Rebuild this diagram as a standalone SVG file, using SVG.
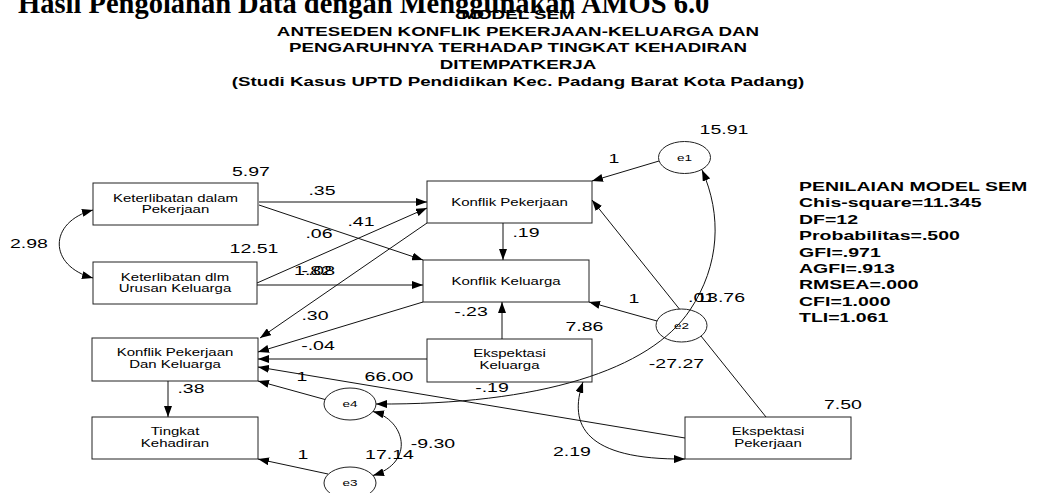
<svg xmlns="http://www.w3.org/2000/svg" width="1037" height="493" viewBox="0 0 1037 493">
<defs>
<marker id="ah" markerUnits="userSpaceOnUse" markerWidth="12" markerHeight="8" refX="11" refY="4" orient="auto-start-reverse" viewBox="0 0 12 8"><path d="M0,0 L11,4 L0,8 z" fill="#000"/></marker>
</defs>
<style>
.box{fill:#fff;stroke:#222;stroke-width:1}
.ell{fill:none;stroke:#222;stroke-width:1}
.c{fill:none;stroke:#111;stroke-width:1;marker-end:url(#ah)}
.cc{fill:none;stroke:#111;stroke-width:1;marker-end:url(#ah);marker-start:url(#ah)}
text{font-family:"Liberation Sans",Arial,sans-serif;fill:#000}
.lbl{font-size:10px;text-anchor:middle}
.el{font-size:9px;text-anchor:middle}
.num{font-size:13px;text-anchor:middle}
.hd{font-size:12.5px;font-weight:bold;text-anchor:middle}
.fit{font-size:13px;font-weight:bold}
.ttl{font-family:"Liberation Serif","Times New Roman",serif;font-size:28.5px;font-weight:bold}
</style>
<rect x="0" y="0" width="1037" height="493" fill="#fff"/>

<g id="title">
<text class="ttl" x="18" y="13">Hasil Pengolahan Data dengan Menggunakan AMOS 6.0</text>
<text class="hd" transform="matrix(1.5 0 0 1 518 19)">MODEL SEM</text>
<text class="hd" transform="matrix(1.5 0 0 1 518 35.7)">ANTESEDEN KONFLIK PEKERJAAN-KELUARGA DAN</text>
<text class="hd" transform="matrix(1.5 0 0 1 518 52.4)">PENGARUHNYA TERHADAP TINGKAT KEHADIRAN</text>
<text class="hd" transform="matrix(1.5 0 0 1 518 69.1)">DITEMPATKERJA</text>
<text class="hd" transform="matrix(1.5 0 0 1 518 85.8)">(Studi Kasus UPTD Pendidikan Kec. Padang Barat Kota Padang)</text>
</g>

<g id="fit-panel">
<text class="fit" transform="matrix(1.5 0 0 1 799 191)">PENILAIAN MODEL SEM</text>
<text class="fit" transform="matrix(1.5 0 0 1 799 207.4)">Chis-square=11.345</text>
<text class="fit" transform="matrix(1.5 0 0 1 799 223.8)">DF=12</text>
<text class="fit" transform="matrix(1.5 0 0 1 799 240.2)">Probabilitas=.500</text>
<text class="fit" transform="matrix(1.5 0 0 1 799 256.6)">GFI=.971</text>
<text class="fit" transform="matrix(1.5 0 0 1 799 273)">AGFI=.913</text>
<text class="fit" transform="matrix(1.5 0 0 1 799 289.4)">RMSEA=.000</text>
<text class="fit" transform="matrix(1.5 0 0 1 799 305.8)">CFI=1.000</text>
<text class="fit" transform="matrix(1.5 0 0 1 799 322.2)">TLI=1.061</text>
</g>

<g id="n-kdp">
<rect class="box" x="93" y="183" width="165" height="42"/>
<text class="lbl" transform="matrix(1.5 0 0 1 175.5 201.5)">Keterlibatan dalam<tspan x="0" dy="12">Pekerjaan</tspan></text>
</g>
<g id="n-kduk">
<rect class="box" x="93" y="262" width="164" height="42"/>
<text class="lbl" transform="matrix(1.5 0 0 1 175 280.5)">Keterlibatan dlm<tspan x="0" dy="12">Urusan Keluarga</tspan></text>
</g>
<g id="n-kp">
<rect class="box" x="427" y="181" width="165" height="42"/>
<text class="lbl" transform="matrix(1.5 0 0 1 509.5 205.5)">Konflik Pekerjaan</text>
</g>
<g id="n-kk">
<rect class="box" x="423" y="260" width="166" height="42"/>
<text class="lbl" transform="matrix(1.5 0 0 1 506 284.5)">Konflik Keluarga</text>
</g>
<g id="n-kpdk">
<rect class="box" x="92" y="338" width="166" height="43"/>
<text class="lbl" transform="matrix(1.5 0 0 1 175 356)">Konflik Pekerjaan<tspan x="0" dy="12">Dan Keluarga</tspan></text>
</g>
<g id="n-tk">
<rect class="box" x="92" y="417" width="166" height="42"/>
<text class="lbl" transform="matrix(1.5 0 0 1 175 435)">Tingkat<tspan x="0" dy="12.5">Kehadiran</tspan></text>
</g>
<g id="n-ek">
<rect class="box" x="427" y="339" width="165" height="43"/>
<text class="lbl" transform="matrix(1.5 0 0 1 509.5 357)">Ekspektasi<tspan x="0" dy="12">Keluarga</tspan></text>
</g>
<g id="n-ep">
<rect class="box" x="685" y="417" width="166" height="42"/>
<text class="lbl" transform="matrix(1.5 0 0 1 768 435)">Ekspektasi<tspan x="0" dy="12.5">Pekerjaan</tspan></text>
</g>
<g id="n-e1">
<ellipse class="ell" cx="684.5" cy="157.5" rx="26" ry="16"/>
<text class="el" transform="matrix(1.5 0 0 1 684.5 160.5)">e1</text>
</g>
<g id="n-e2">
<ellipse class="ell" cx="681.5" cy="325.5" rx="25.5" ry="16.5"/>
<text class="el" transform="matrix(1.5 0 0 1 681.5 328.5)">e2</text>
</g>
<g id="n-e4">
<ellipse class="ell" cx="350" cy="404" rx="26" ry="16"/>
<text class="el" transform="matrix(1.5 0 0 1 350 407)">e4</text>
</g>
<g id="n-e3">
<ellipse class="ell" cx="350" cy="483" rx="26" ry="16"/>
<text class="el" transform="matrix(1.5 0 0 1 350 486)">e3</text>
</g>

<g id="connectors">
<path class="c" d="M259,202 L427,202"/>
<path class="c" d="M259,205 L423,260"/>
<path class="c" d="M257,283 L427,208"/>
<path class="c" d="M257,285 L423,285"/>
<path class="c" d="M503,223 L503,260"/>
<path class="c" d="M427,223 L260,338"/>
<path class="c" d="M423,302 L258,352"/>
<path class="c" d="M502,339 L502,302"/>
<path class="c" d="M427,359 L258,359"/>
<path class="c" d="M685,438 L258,367"/>
<path class="c" d="M766,417 L701,336 M679.4,309 L592,200"/>
<path class="c" d="M659,161 L592,181"/>
<path class="c" d="M657,321 L589,302"/>
<path class="c" d="M325,399.5 L258,381"/>
<path class="c" d="M328,474 L258,459"/>
<path class="c" d="M168,381 L168,417"/>
<path class="cc" d="M93,210 C48,222 48,266 93,278"/>
<path class="cc" d="M376,404 C540,405 650,370 690,310 C720,265 722,215 702,170"/>
<path class="cc" d="M373,411.5 C405,420 416,462 373,475.5"/>
<path class="cc" d="M583,382 C568,425 585,460 685,459"/>
</g>

<g id="estimates">
<text class="num" transform="matrix(1.5 0 0 1 251 176)">5.97</text>
<text class="num" transform="matrix(1.5 0 0 1 322 195)">.35</text>
<text class="num" transform="matrix(1.5 0 0 1 361 226)">.41</text>
<text class="num" transform="matrix(1.5 0 0 1 319 238)">.06</text>
<text class="num" transform="matrix(1.5 0 0 1 29 248)">2.98</text>
<text class="num" transform="matrix(1.5 0 0 1 254 253)">12.51</text>
<text class="num" style="text-anchor:end" transform="matrix(1.5 0 0 1 332 275)">1.82</text>
<text class="num" style="text-anchor:end" transform="matrix(1.5 0 0 1 335 275)">-.08</text>
<text class="num" transform="matrix(1.5 0 0 1 315 320)">.30</text>
<text class="num" transform="matrix(1.5 0 0 1 471 316)">-.23</text>
<text class="num" transform="matrix(1.5 0 0 1 318 350)">-.04</text>
<text class="num" transform="matrix(1.5 0 0 1 302 381)">1</text>
<text class="num" transform="matrix(1.5 0 0 1 389 381)">66.00</text>
<text class="num" transform="matrix(1.5 0 0 1 191 393)">.38</text>
<text class="num" transform="matrix(1.5 0 0 1 492 392)">-.19</text>
<text class="num" transform="matrix(1.5 0 0 1 724 134)">15.91</text>
<text class="num" transform="matrix(1.5 0 0 1 614 163)">1</text>
<text class="num" transform="matrix(1.5 0 0 1 526 237)">.19</text>
<text class="num" transform="matrix(1.5 0 0 1 634 303)">1</text>
<text class="num" style="text-anchor:start" transform="matrix(1.5 0 0 1 688 302)">.01</text>
<text class="num" style="text-anchor:end" transform="matrix(1.5 0 0 1 745 302)">13.76</text>
<text class="num" transform="matrix(1.5 0 0 1 584.5 331)">7.86</text>
<text class="num" transform="matrix(1.5 0 0 1 676.5 368)">-27.27</text>
<text class="num" transform="matrix(1.5 0 0 1 843 409)">7.50</text>
<text class="num" transform="matrix(1.5 0 0 1 572 456)">2.19</text>
<text class="num" transform="matrix(1.5 0 0 1 303 459)">1</text>
<text class="num" transform="matrix(1.5 0 0 1 389.5 459)">17.14</text>
<text class="num" transform="matrix(1.5 0 0 1 433 448)">-9.30</text>
</g>
</svg>
